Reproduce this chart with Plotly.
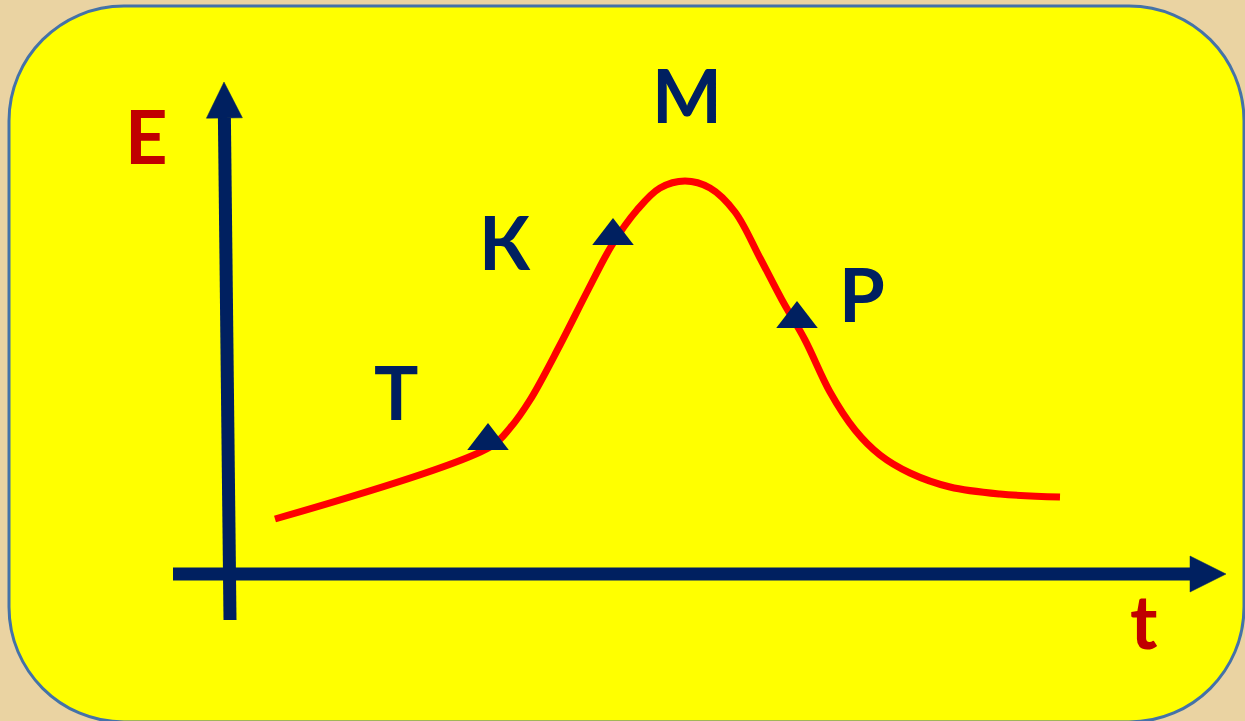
import plotly.graph_objects as go

W, H = 1245, 721

# curve E(t), units: pixels from the origin of the drawn axes
curve_t = [45, 260, 280, 300, 330, 358, 382, 407, 430, 455, 480, 505, 530,
           552, 575, 600, 625, 650, 680, 720, 770, 830]
curve_e = [55, 127, 146, 174, 229, 284, 329, 364, 386, 393, 386, 362, 316,
           274, 234, 182, 144, 119, 101, 87, 80, 77]

# stage markers on the curve
mark_t = [258, 383, 567]
mark_e = [133, 338, 255]

# labels
label_text = ["Т", "К", "М", "Р"]
label_t = [166, 275, 457, 632]
label_e = [183, 333, 480, 281]

# axes ends (start, tip)
xaxis_t = [-57, 996]
xaxis_e = [0, 0]
yaxis_t = [0, -6]
yaxis_e = [-46, 492]

NAVY = "#002060"
DARKRED = "#C00000"

# data -> page pixel offsets
OX, OY = 230, 574


def arrow(xs, ys, head=36, half=18):
    # shaft up to the head base, plus the head polygon
    x0, y0, x1, y1 = xs[0], ys[0], xs[1], ys[1]
    dx, dy = x1 - x0, y1 - y0
    L = (dx * dx + dy * dy) ** 0.5
    ux, uy = dx / L, dy / L
    bx, by = x1 - ux * head, y1 - uy * head
    px, py = -uy, ux
    shaft = go.Scatter(x=[x0, bx], y=[y0, by], mode="lines",
                       line=dict(color=NAVY, width=13), hoverinfo="skip")
    tip = go.Scatter(x=[x1, bx + px * half, bx - px * half, x1],
                     y=[y1, by + py * half, by - py * half, y1],
                     mode="lines", fill="toself", fillcolor=NAVY,
                     line=dict(color=NAVY, width=0.5), hoverinfo="skip")
    return [shaft, tip]


fig = go.Figure()

for tr in arrow(yaxis_t, yaxis_e) + arrow(xaxis_t, xaxis_e):
    fig.add_trace(tr)

fig.add_trace(go.Scatter(x=curve_t, y=curve_e, mode="lines",
                         line=dict(color="#FF0000", width=7, shape="spline", smoothing=1.0),
                         hoverinfo="skip"))

fig.add_trace(go.Scatter(x=mark_t, y=mark_e, mode="markers",
                         marker=dict(symbol="triangle-up", size=36, color=NAVY,
                                     line=dict(width=0)),
                         hoverinfo="skip"))

big = dict(family="Lato", size=74, weight="bold")
for txt, tx, ty in zip(label_text, label_t, label_e):
    fig.add_annotation(x=tx, y=ty, text=txt, showarrow=False,
                       font=dict(color=NAVY, **big))
fig.add_annotation(x=-84, y=439, text="Е", showarrow=False, font=dict(color=DARKRED, **big))
fig.add_annotation(x=914, y=-46, text="t", showarrow=False, font=dict(color=DARKRED, **big))


# yellow rounded panel, pixel geometry of the page
def rrect(x0, y0, x1, y1, r):
    k = 0.5523 * r

    def p(x, y):
        return f"{x / W:.5f},{1 - y / H:.5f}"
    return (f"M {p(x0 + r, y0)} L {p(x1 - r, y0)} "
            f"C {p(x1 - r + k, y0)} {p(x1, y0 + r - k)} {p(x1, y0 + r)} "
            f"L {p(x1, y1 - r)} "
            f"C {p(x1, y1 - r + k)} {p(x1 - r + k, y1)} {p(x1 - r, y1)} "
            f"L {p(x0 + r, y1)} "
            f"C {p(x0 + r - k, y1)} {p(x0, y1 - r + k)} {p(x0, y1 - r)} "
            f"L {p(x0, y0 + r)} "
            f"C {p(x0, y0 + r - k)} {p(x0 + r - k, y0)} {p(x0 + r, y0)} Z")


fig.add_shape(type="path", xref="paper", yref="paper", layer="below",
              path=rrect(9, 6, 1244, 722, 115),
              fillcolor="#FFFF00", line=dict(color="#4472A8", width=3))

fig.update_layout(
    width=W, height=H,
    margin=dict(l=0, r=0, t=0, b=0),
    paper_bgcolor="#EAD3A2", plot_bgcolor="rgba(0,0,0,0)",
    showlegend=False,
    xaxis=dict(range=[-OX, W - OX], visible=False, fixedrange=True),
    yaxis=dict(range=[OY - H, OY], visible=False, fixedrange=True),
)

fig.write_html("out.html", config={"displayModeBar": False},
               post_script="document.body.style.margin='0';"
                           "document.body.style.background='#EAD3A2';"
                           "document.body.style.overflow='hidden';")
